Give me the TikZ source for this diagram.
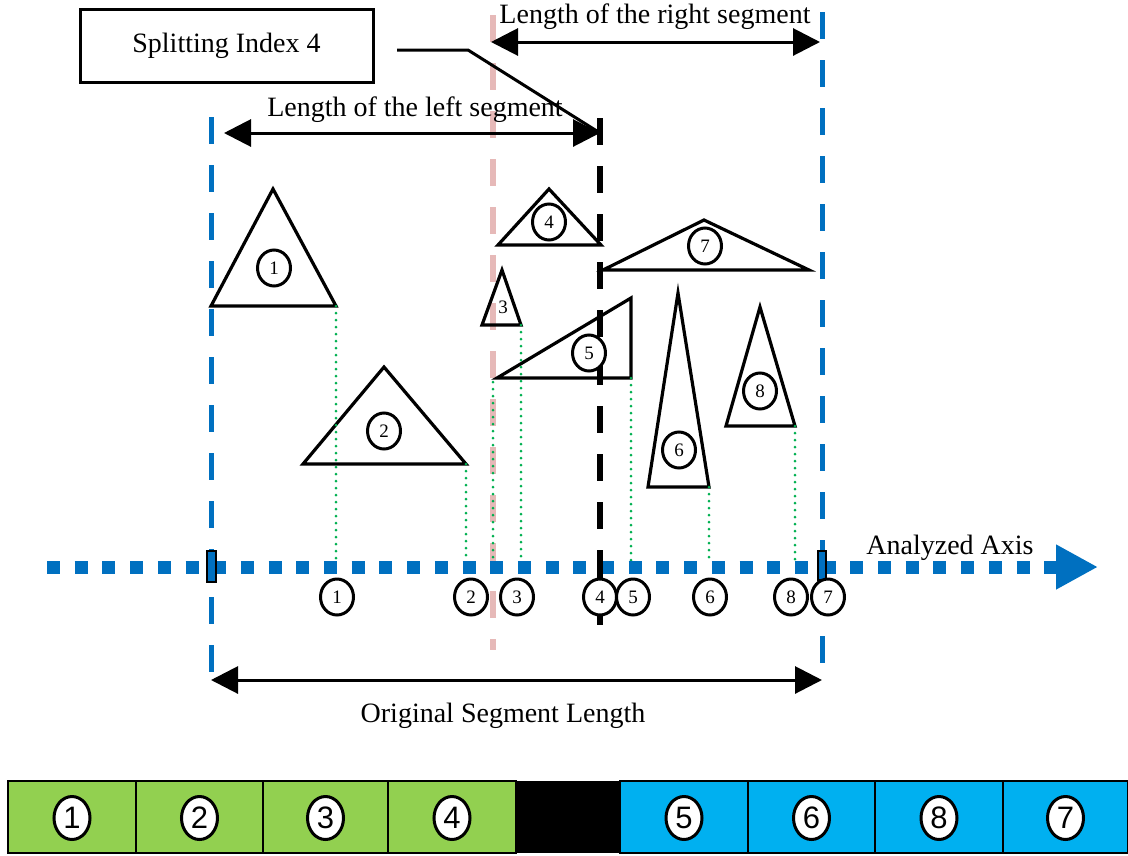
\documentclass[tikz,border=0pt]{standalone}
\usepackage{fontspec}
\setmainfont{Liberation Serif}
\newfontfamily\barfont{Liberation Sans}
\usetikzlibrary{arrows.meta,calc,shapes.geometric}
\definecolor{axisblue}{RGB}{0,112,192}
\definecolor{splitpink}{RGB}{230,185,184}
\definecolor{dotgreen}{RGB}{0,176,80}
\definecolor{leftgreen}{RGB}{146,208,80}
\definecolor{rightblue}{RGB}{0,176,240}

\begin{document}
\begin{tikzpicture}[x=1pt, y=-1pt, line join=miter, >={Triangle[length=27pt,width=27pt]},
  tri/.style={line width=3.2pt},
  num/.style={ellipse, draw, line width=3pt, fill=white, inner sep=0pt,
    minimum width=33pt, minimum height=36pt, font=\fontsize{19}{19}\selectfont},
  pill/.style={ellipse, draw, line width=3pt, fill=white, inner sep=0pt,
    minimum width=36pt, minimum height=43pt, font=\barfont\fontsize{31}{31}\selectfont},
  lbl/.style={inner sep=0pt, font=\fontsize{28}{32}\selectfont},
  bound/.style={axisblue, line width=5pt, dash pattern=on 27pt off 21pt},
  proj/.style={dotgreen, line width=3pt, line cap=round, dash pattern=on 0pt off 7pt},
  dim/.style={<->, line width=3pt}]
  \useasboundingbox (0,0) rectangle (1128,855);

  % segment borders and split position
  \coordinate (lt) at (211,117);  \coordinate (lb) at (211,680);
  \coordinate (rt) at (822,12);   \coordinate (rb) at (822,680);
  \coordinate (pt) at (493,15);   \coordinate (pb) at (493,650);
  \coordinate (st) at (600,118);  \coordinate (sb) at (600,630);
  \draw[bound] (lt) -- (lb);
  \draw[bound] (rt) -- (rb);
  \draw[splitpink, line width=6pt, dash pattern=on 27pt off 21pt] (pt) -- (pb);
  \draw[line width=5.5pt, dash pattern=on 27pt off 21pt] (st) -- (sb);

  % objects
  \draw[tri] (273,189) -- (211,306) -- (336,306) coordinate (t1) -- cycle;
  \draw[tri] (384,367) -- (303,464) -- (466,464) coordinate (t2) -- cycle;
  \draw[tri] (502,270) -- (482,325) -- (521,325) coordinate (t3) -- cycle;
  \draw[tri] (549,189) -- (498,245) -- (601,245) -- cycle;
  \draw[tri] (497,378) -- (631,298) -- (631,378) coordinate (t5) -- cycle;
  \draw[tri] (678,293) -- (648,487) -- (709,487) coordinate (t6) -- cycle;
  \draw[tri] (704,220) -- (603,270) -- (809,270) -- cycle;
  \draw[tri] (760,307) -- (726,426) -- (795,426) coordinate (t8) -- cycle;
  \coordinate (t5l) at (493,382);

  % projections on the axis
  \coordinate (ax) at (0,561);
  \foreach \t in {t1,t2,t3,t5,t5l,t6,t8}
    \draw[proj] (\t) -- (\t |- ax);

  \node[num] (o1) at (274,268) {1};
  \node[num] (o2) at (384,431) {2};
  \node[inner sep=0pt, font=\fontsize{19}{19}\selectfont] (o3) at (503,307) {3};
  \node[num] (o4) at (549,222) {4};
  \node[num] (o5) at (589,353) {5};
  \node[num] (o6) at (679,450) {6};
  \node[num] (o7) at (705,246) {7};
  \node[num] (o8) at (760,391) {8};

  % analyzed axis
  \coordinate (a0) at (47,567);
  \coordinate (a1) at (1098,567);
  \draw[axisblue, line width=13pt, dash pattern=on 13pt off 14.7pt,
    -{Triangle[length=42pt,width=42pt]}] (a0) -- (a1);
  \filldraw[fill=axisblue, line width=1.5pt] (207,551) rectangle (216,582);
  \filldraw[fill=axisblue, line width=1.5pt] (818,551) rectangle (826,580);
  \draw[line width=5.5pt] (600,553) -- (600,582);
  \node[lbl] (axl) at (950,548) {Analyzed Axis};

  \foreach \n/\x in {1/337,2/471,3/517,4/600,5/633,6/710,8/791,7/828}
    \node[num] (p\n) at (\x,597) {\n};

  % lengths
  \coordinate (ll) at (224,133);  \coordinate (lr) at (600,133);
  \coordinate (rl) at (491,42);   \coordinate (rr) at (820,42);
  \draw[dim] (ll) -- (lr);
  \draw[dim] (rl) -- (rr);
  \draw[dim] (lb) -- (rb);
  \node[lbl] (lll) at (415,110) {Length of the left segment};
  \node[lbl] (rrl) at (655,17) {Length of the right segment};
  \node[lbl] (ool) at (503,716) {Original Segment Length};

  \node[draw, line width=3pt, minimum width=293pt, minimum height=73pt, lbl] (split) at (226.5,46) {Splitting Index 4};
  \coordinate (lead) at (397,50);
  \coordinate (bend) at (468,50);
  \draw[line width=3pt] (lead) -- (bend) -- (lr);

  % resulting order
  \foreach \a/\b/\c/\t in {8/136/leftgreen/1, 136/263/leftgreen/2, 263/388/leftgreen/3, 388/516/leftgreen/4,
      620/748/rightblue/5, 748/875/rightblue/6, 875/1003/rightblue/8, 1003/1128/rightblue/7} {
    \draw[fill=\c, line width=1.5pt] (\a,781) rectangle (\b,853);
    \node[pill] (b\t) at ({(\a+\b)/2},818) {\t};
  }
  \fill (516,781) rectangle (620,853);
\end{tikzpicture}
\end{document}
